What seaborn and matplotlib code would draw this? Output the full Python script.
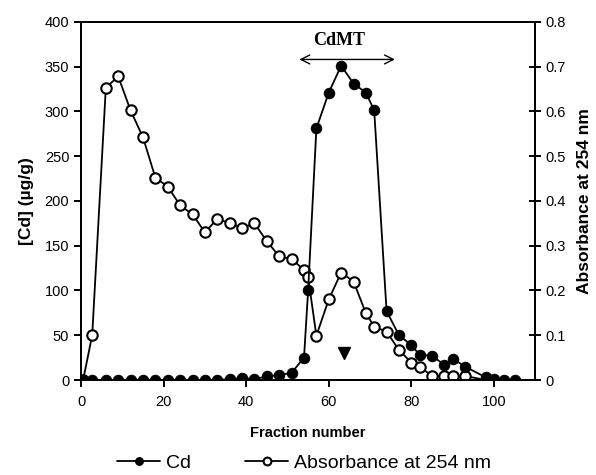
import pandas as pd
import matplotlib
matplotlib.use("Agg")
import matplotlib.pyplot as plt
import seaborn as sns

# fraction number vs Cd concentration (ug/g)
cd_fraction = [0.5, 2.7, 6, 9, 12, 15, 18, 21, 24, 27, 30, 33, 36, 39, 42, 45, 48, 51,
               54, 55, 57, 60, 63, 66, 69, 71, 74, 77, 80, 82, 85, 88, 90, 93, 98, 100,
               102.5, 105]
cd_value = [0, 0, 0, 0, 0, 0, 0, 0, 0, 0, 0, 0, 1, 2, 1, 4, 5.5, 8,
            25, 100, 281, 321, 351, 331, 321, 301, 77, 50, 39, 28, 27, 17, 24, 15, 3, 1,
            0, 0]

# fraction number vs absorbance at 254 nm
abs_fraction = [0.5, 2.7, 6, 9, 12, 15, 18, 21, 24, 27, 30, 33, 36, 39, 42, 45, 48, 51,
                54, 55, 57, 60, 63, 66, 69, 71, 74, 77, 80, 82, 85, 88, 90, 93, 98]
abs_value = [0, 0.1, 0.653, 0.678, 0.602, 0.542, 0.452, 0.432, 0.39, 0.37, 0.33, 0.36,
             0.35, 0.34, 0.35, 0.31, 0.276, 0.27, 0.246, 0.229, 0.099, 0.18, 0.24, 0.22,
             0.149, 0.119, 0.108, 0.067, 0.039, 0.03, 0.009, 0.009, 0.009, 0.009, 0.0]

df_cd = pd.DataFrame({"fraction": cd_fraction, "cd": cd_value})
df_abs = pd.DataFrame({"fraction": abs_fraction, "absorb": abs_value})

sns.set_style("ticks")
plt.rcParams["font.family"] = ["Liberation Sans", "DejaVu Sans"]
plt.rcParams["text.color"] = "black"
plt.rcParams["axes.labelcolor"] = "black"

fig = plt.figure(figsize=(5.96, 4.75), dpi=100)
ax = fig.add_axes([0.136, 0.2, 0.762, 0.754])
ax2 = ax.twinx()

# absorbance: open circles (right axis)
sns.lineplot(data=df_abs, x="fraction", y="absorb", ax=ax2, color="black", lw=1.3,
             marker="o", markersize=7.5, markerfacecolor="white",
             markeredgecolor="black", markeredgewidth=1.5, estimator=None,
             sort=False, label="Absorbance at 254 nm", legend=False)
# Cd: filled circles (left axis), drawn on top
sns.lineplot(data=df_cd, x="fraction", y="cd", ax=ax, color="black", lw=1.3,
             marker="o", markersize=7.5, markerfacecolor="black",
             markeredgecolor="black", estimator=None, sort=False,
             label="Cd", legend=False)
ax.set_zorder(ax2.get_zorder() + 1)
ax.patch.set_visible(False)

ax.set_xlim(0, 110)
ax.set_ylim(0, 400)
ax2.set_ylim(0, 0.8)
ax.set_xticks([0, 20, 40, 60, 80, 100])
ax.set_yticks(range(0, 401, 50))
ax2.set_yticks([0, 0.1, 0.2, 0.3, 0.4, 0.5, 0.6, 0.7, 0.8])
ax2.set_yticklabels(["0", "0.1", "0.2", "0.3", "0.4", "0.5", "0.6", "0.7", "0.8"])

for a in (ax, ax2):
    for s in a.spines.values():
        s.set_linewidth(1.4)
        s.set_color("black")
ax.tick_params(axis="both", direction="out", length=5, width=1.4,
               labelsize=10.5, colors="black")
ax.tick_params(axis="x", pad=6)
ax2.tick_params(axis="y", direction="inout", length=8, width=1.4,
                labelsize=10.5, colors="black")

ax.set_xlabel("Fraction number", fontsize=10.5, fontweight="bold", labelpad=12)
ax.set_ylabel("[Cd] (µg/g)", fontsize=12.5, fontweight="bold", labelpad=8)
ax2.set_ylabel("Absorbance at 254 nm", fontsize=12.5, fontweight="bold", labelpad=8)

# CdMT range annotation and marker
ax.annotate("", xy=(52.2, 358), xytext=(76.7, 358),
            arrowprops=dict(arrowstyle="<->", color="black", lw=1.0,
                            mutation_scale=16))
ax.text(62.6, 379, "CdMT", ha="center", va="center", fontsize=13,
        fontweight="bold", family=["Liberation Serif", "DejaVu Serif"])
ax.plot([63.6], [30], marker="v", color="black", markersize=9, linestyle="none")

h1, l1 = ax.get_legend_handles_labels()
h2, l2 = ax2.get_legend_handles_labels()
leg = fig.legend(h1 + h2, l1 + l2, loc="center", bbox_to_anchor=(0.51, 0.025),
                 ncol=2, frameon=False, fontsize=14, handlelength=2.2,
                 columnspacing=2.8, markerscale=0.75, handletextpad=0.3)

fig.savefig("out.png", dpi=100)
